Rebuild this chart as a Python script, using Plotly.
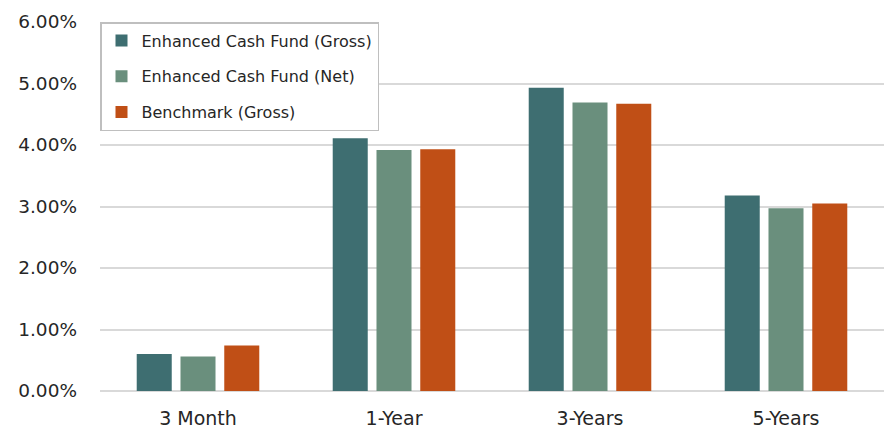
import plotly.graph_objects as go

categories = ["3 Month", "1-Year", "3-Years", "5-Years"]
gross = [0.60, 4.11, 4.93, 3.18]
net = [0.56, 3.92, 4.69, 2.97]
bench = [0.74, 3.93, 4.67, 3.05]
series_names = ["Enhanced Cash Fund (Gross)", "Enhanced Cash Fund (Net)", "Benchmark (Gross)"]
colors = ["#3E6E71", "#6A8F7D", "#C04F16"]
tick_vals = [0, 1, 2, 3, 4, 5, 6]
tick_text = ["0.00%", "1.00%", "2.00%", "3.00%", "4.00%", "5.00%", "6.00%"]

fig = go.Figure()
for i, (name, vals, c) in enumerate(zip(series_names, [gross, net, bench], colors)):
    fig.add_trace(go.Bar(x=categories, y=vals, name=name, marker_color=c,
                         marker_line_width=0, legendgroup=f"g{i}"))

fig.update_layout(
    width=892, height=430,
    margin=dict(l=100, r=8, t=22, b=39, autoexpand=False),
    paper_bgcolor="white", plot_bgcolor="white",
    barmode="group", bargap=0.33, bargroupgap=0.2,
    font=dict(family="DejaVu Sans, sans-serif", color="#262626"),
    legend=dict(x=0, y=1, xanchor="left", yanchor="top",
                bordercolor="#BFBFBF", borderwidth=1.5, bgcolor="white",
                font=dict(size=16, color="#262626"),
                traceorder="grouped", tracegroupgap=12,
                itemwidth=30),
    xaxis=dict(showline=False, ticks="", tickfont=dict(size=19), showgrid=False,
               automargin=False, ticklabelstandoff=14),
    yaxis=dict(range=[0, 6], tickvals=tick_vals, ticktext=tick_text,
               tickfont=dict(size=18.5), showgrid=True, gridcolor="#D9D9D9",
               gridwidth=1.5, zeroline=True, zerolinecolor="#D9D9D9",
               zerolinewidth=1.5, ticks="", ticklabelstandoff=22,
               automargin=False),
)

fig.write_html("out.html", config={"displayModeBar": False},
               post_script="document.body.style.margin='0';document.body.style.overflow='hidden';")
